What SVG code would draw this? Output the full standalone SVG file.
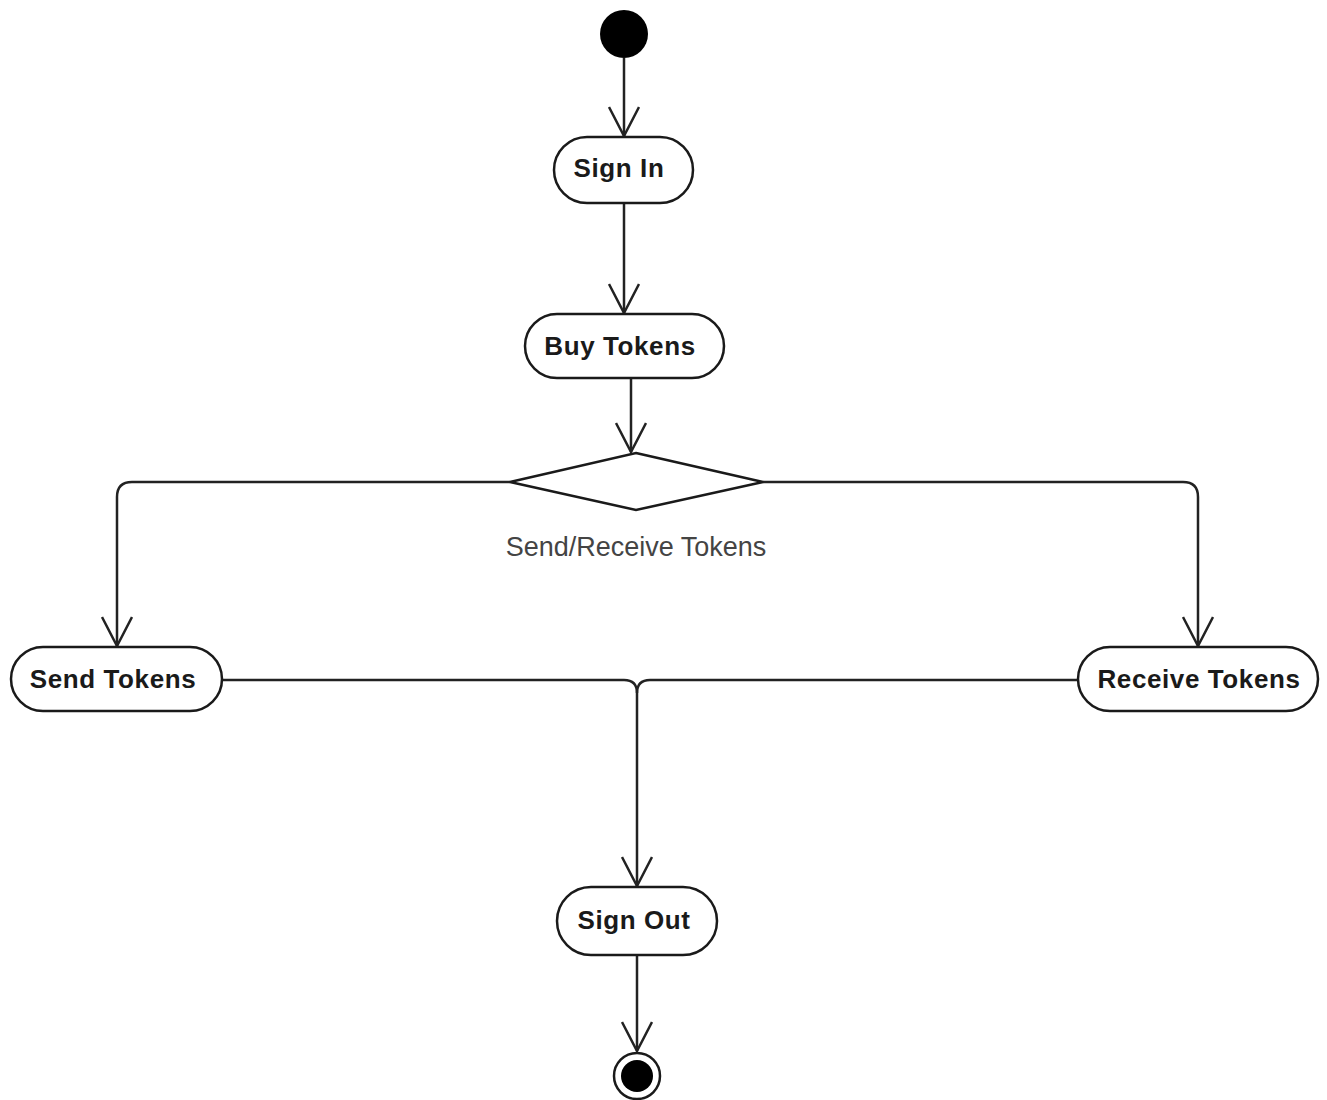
<svg xmlns="http://www.w3.org/2000/svg" width="1327" height="1100" viewBox="0 0 1327 1100">
<style>
.node{fill:#fff;stroke:#1a1a1a;stroke-width:2.5}
.lbl{font-family:"Liberation Sans",Arial,sans-serif;font-weight:bold;font-size:26px;letter-spacing:0.6px;fill:#1a1a1a;text-anchor:middle}
.edge{fill:none;stroke:#222;stroke-width:2.5}
.guard{font-family:"Liberation Sans",Arial,sans-serif;font-size:27px;fill:#444;text-anchor:middle}
</style>
<defs>
<marker id="open" viewBox="0 0 32 32" refX="30" refY="16" markerWidth="32" markerHeight="32" markerUnits="userSpaceOnUse" orient="auto">
<path d="M1,1 L30,16 L1,31" fill="none" stroke="#222" stroke-width="2.5"/>
</marker>
</defs>
<rect width="1327" height="1100" fill="#fff"/>
<g id="connectors">
<path class="edge" d="M624,58 V136" marker-end="url(#open)"/>
<path class="edge" d="M624,204 V313" marker-end="url(#open)"/>
<path class="edge" d="M631,379 V452" marker-end="url(#open)"/>
<path class="edge" d="M510,482 H132 Q117,482 117,497 V646" marker-end="url(#open)"/>
<path class="edge" d="M763,482 H1183 Q1198,482 1198,497 V646" marker-end="url(#open)"/>
<path class="edge" d="M222,680 H624 Q637,680 637,693 V886" marker-end="url(#open)"/>
<path class="edge" d="M1078,680 H650 Q637,680 637,693"/>
<path class="edge" d="M637,956 V1051" marker-end="url(#open)"/>
</g>
<g id="start"><circle cx="624" cy="34" r="24" fill="#000"/></g>
<g id="sign-in"><rect class="node" x="554" y="137" width="139" height="66" rx="33"/><text class="lbl" x="619" y="177">Sign In</text></g>
<g id="buy-tokens"><rect class="node" x="525" y="314" width="199" height="64" rx="32"/><text class="lbl" x="620" y="355">Buy Tokens</text></g>
<g id="decision"><polygon class="node" points="636,453 763,482 636,510 510,482"/><text class="guard" x="636" y="556">Send/Receive Tokens</text></g>
<g id="send-tokens"><rect class="node" x="11" y="647" width="211" height="64" rx="32"/><text class="lbl" x="113" y="688">Send Tokens</text></g>
<g id="receive-tokens"><rect class="node" x="1078" y="647" width="240" height="64" rx="32"/><text class="lbl" x="1199" y="688">Receive Tokens</text></g>
<g id="sign-out"><rect class="node" x="557" y="887" width="160" height="68" rx="34"/><text class="lbl" x="634" y="929">Sign Out</text></g>
<g id="end"><circle cx="637" cy="1076" r="23" fill="#fff" stroke="#1a1a1a" stroke-width="2.5"/><circle cx="637" cy="1076" r="16" fill="#000"/></g>
</svg>
